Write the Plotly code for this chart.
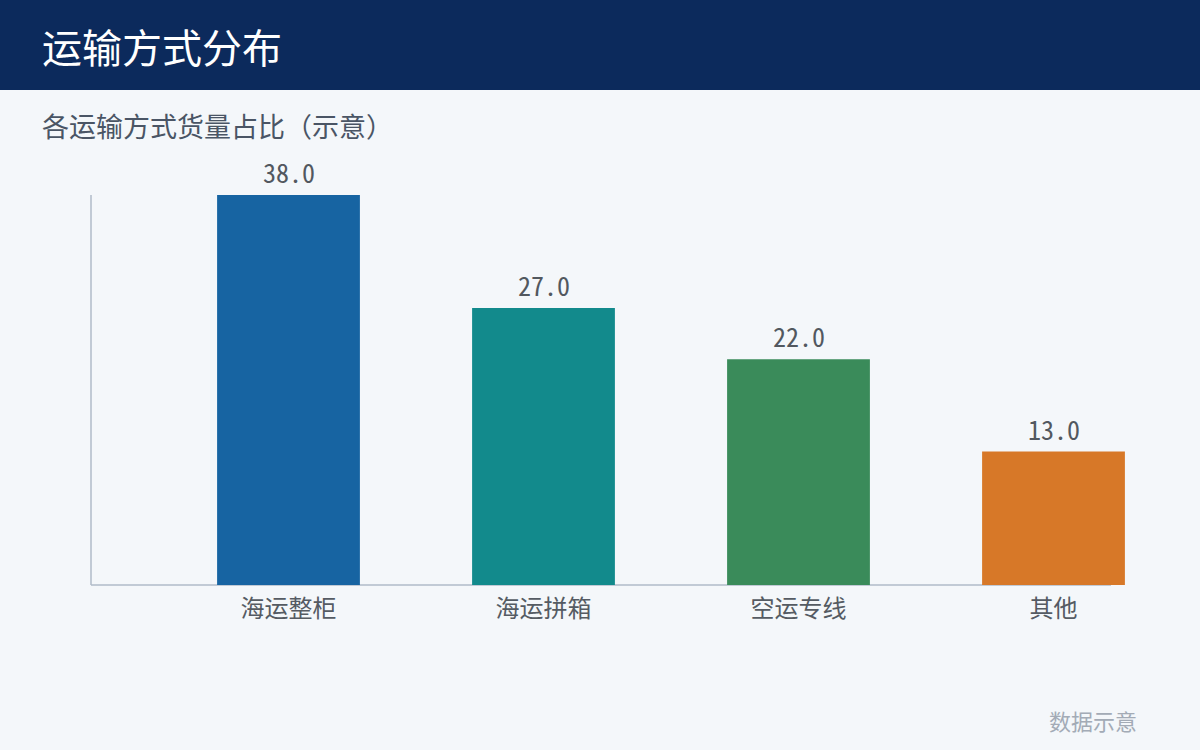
import plotly.graph_objects as go

categories = ["海运整柜", "海运拼箱", "空运专线", "其他"]
values = [38.0, 27.0, 22.0, 13.0]
bar_colors = ["#1764A2", "#128A8C", "#3A8B5A", "#D77828"]

W, H = 1200, 750
L, T, B = 91, 195, 165
AX_RIGHT = 1111          # where the drawn x axis line ends (px)
PLOT_RIGHT = 1180        # plot area right edge (px), wide enough for last bar
R = W - PLOT_RIGHT
pw, ph = PLOT_RIGHT - L, H - T - B
UNIT = 255.0             # px per category
X0 = -0.7745
X1 = X0 + pw / UNIT

def px_x(x):
    return (x - L) / pw

def px_y(y):
    return (H - B - y) / ph

FONT = "Noto Sans CJK SC, Noto Sans, sans-serif"
MONO = "Noto Sans Mono CJK SC, Noto Sans CJK SC, monospace"
AXC = "#B0BBC8"

fig = go.Figure()
fig.add_trace(go.Bar(
    x=categories, y=values, width=0.56,
    marker=dict(color=bar_colors, line=dict(width=0)),
    hoverinfo="skip",
))

for c, v in zip(categories, values):
    fig.add_annotation(x=c, y=v, text=f"{v:.1f}", showarrow=False,
                       yanchor="bottom", yshift=3,
                       font=dict(family=MONO, size=26, color="#52585F"))

# header band
fig.add_shape(type="rect", xref="paper", yref="paper",
              x0=px_x(0), x1=px_x(W), y0=px_y(90), y1=px_y(0),
              fillcolor="#0C2A5C", line=dict(width=0), layer="below")
# axis lines
fig.add_shape(type="line", xref="paper", yref="paper",
              x0=px_x(L), x1=px_x(AX_RIGHT), y0=0, y1=0,
              line=dict(color=AXC, width=1.5), layer="below")
fig.add_shape(type="line", xref="paper", yref="paper",
              x0=px_x(L), x1=px_x(L), y0=0, y1=1,
              line=dict(color=AXC, width=1.5), layer="below")

fig.add_annotation(xref="paper", yref="paper", x=px_x(40), y=px_y(46),
                   xanchor="left", yanchor="middle", showarrow=False,
                   text="运输方式分布", font=dict(family=FONT, size=40, color="#FFFFFF"))
fig.add_annotation(xref="paper", yref="paper", x=px_x(40), y=px_y(126),
                   xanchor="left", yanchor="middle", showarrow=False,
                   text="各运输方式货量占比（示意）", font=dict(family=FONT, size=27, color="#4A5565"))
fig.add_annotation(xref="paper", yref="paper", x=px_x(1139), y=px_y(720),
                   xanchor="right", yanchor="middle", showarrow=False,
                   text="数据示意", font=dict(family=FONT, size=22, color="#A3ABB6"))

fig.update_layout(
    width=W, height=H,
    margin=dict(l=L, r=R, t=T, b=B, pad=0),
    paper_bgcolor="#F4F7FA", plot_bgcolor="#F4F7FA",
    showlegend=False,
    font=dict(family=FONT),
)
fig.update_xaxes(type="category", range=[X0, X1], showline=False,
                 showgrid=False, zeroline=False,
                 ticks="outside", ticklen=2, tickcolor="rgba(0,0,0,0)",
                 tickfont=dict(family=FONT, size=24, color="#555B63"))
fig.update_yaxes(range=[0, 38], showline=False,
                 showgrid=False, zeroline=False, showticklabels=False, ticks="")

fig.write_html("out.html", config={"displayModeBar": False},
               post_script="document.body.style.margin='0';")
